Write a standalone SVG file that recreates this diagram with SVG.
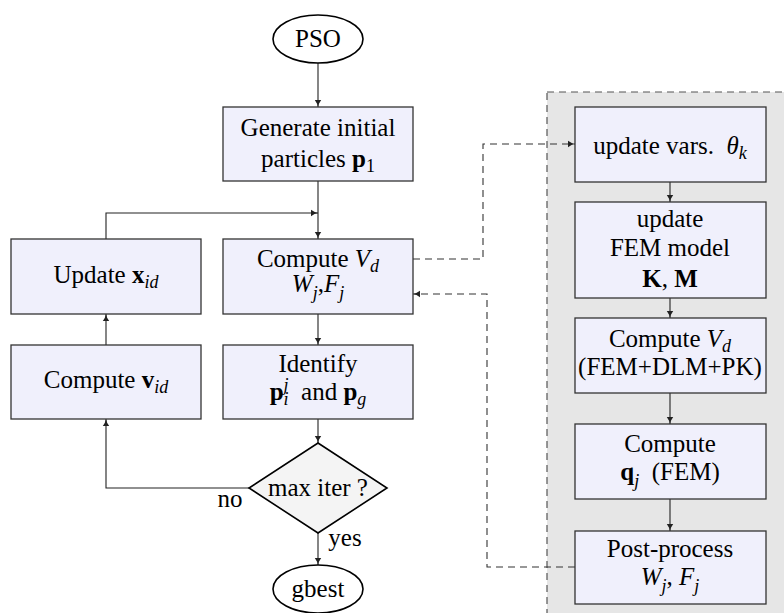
<svg xmlns="http://www.w3.org/2000/svg" width="784" height="613" viewBox="0 0 784 613" font-family="'Liberation Serif', 'Times New Roman', 'DejaVu Serif', serif">
<style>
text{font-family:'Liberation Serif','Times New Roman','DejaVu Serif',serif;font-size:25px;fill:#000;text-anchor:middle}
.box{fill:#f0f0fc;stroke:#333;stroke-width:1.3}
.term{fill:#fff;stroke:#000;stroke-width:1.6}
.dia{fill:#f4f4f4;stroke:#000;stroke-width:1.6}
.ln{fill:none;stroke:#222;stroke-width:1.1;marker-end:url(#ah)}
.dash{fill:none;stroke:#333;stroke-width:1.1;stroke-dasharray:7 5}
.it{font-style:italic}
.b{font-weight:bold}
.s{font-size:18px;font-style:italic}
</style>
<defs>
<marker id="ah" markerUnits="userSpaceOnUse" markerWidth="8" markerHeight="8" refX="7" refY="4" orient="auto">
<path d="M0,0.8 Q3.5,3.4 7,4 Q3.5,4.6 0,7.2 Z" fill="#222"/>
</marker>
</defs>
<g id="panel">
<rect x="547" y="92" width="250" height="540" fill="#e6e6e6" stroke="#555" stroke-width="1.2" stroke-dasharray="7 5"/>
</g>
<g id="connectors">
<line class="ln" x1="318" y1="63" x2="318" y2="107"/>
<line class="ln" x1="318" y1="181" x2="318" y2="239"/>
<polyline class="ln" points="106,239 106,213 318,213"/>
<line class="ln" x1="318" y1="314" x2="318" y2="345"/>
<line class="ln" x1="318" y1="419" x2="318" y2="443"/>
<line class="ln" x1="318" y1="533" x2="318" y2="565"/>
<polyline class="ln" points="249,488 106,488 106,419"/>
<line class="ln" x1="106" y1="345" x2="106" y2="314"/>
<line class="ln" x1="670" y1="182" x2="670" y2="202"/>
<line class="ln" x1="670" y1="298" x2="670" y2="318"/>
<line class="ln" x1="670" y1="393" x2="670" y2="424"/>
<line class="ln" x1="670" y1="499" x2="670" y2="531"/>
<polyline class="dash" marker-end="url(#ah)" points="413,259 483,259 483,144 575,144"/>
<polyline class="dash" marker-end="url(#ah)" points="575,567 487,567 487,294 413,294"/>
<text x="230" y="507">no</text>
<text x="345" y="546">yes</text>
</g>
<g id="pso">
<ellipse class="term" cx="318" cy="39" rx="45" ry="24"/>
<text x="318" y="47">PSO</text>
</g>
<g id="generate">
<rect class="box" x="223" y="107" width="190" height="74"/>
<text x="318" y="136">Generate initial</text>
<text x="318" y="167">particles <tspan class="b">p</tspan><tspan font-size="18" baseline-shift="-5">1</tspan></text>
</g>
<g id="update-x">
<rect class="box" x="11" y="239" width="190" height="75"/>
<text x="106" y="283">Update <tspan class="b">x</tspan><tspan class="s" baseline-shift="-5">id</tspan></text>
</g>
<g id="compute-vd">
<rect class="box" x="223" y="239" width="190" height="75"/>
<text x="318" y="267">Compute <tspan class="it">V</tspan><tspan class="s" baseline-shift="-5">d</tspan></text>
<text x="318" y="292"><tspan class="it">W</tspan><tspan class="s" baseline-shift="-7">j</tspan>,<tspan class="it">F</tspan><tspan class="s" baseline-shift="-7">j</tspan></text>
</g>
<g id="compute-v">
<rect class="box" x="11" y="345" width="190" height="74"/>
<text x="106" y="388">Compute <tspan class="b">v</tspan><tspan class="s" baseline-shift="-5">id</tspan></text>
</g>
<g id="identify">
<rect class="box" x="223" y="345" width="190" height="74"/>
<text x="318" y="372">Identify</text>
<text x="318" y="400" xml:space="preserve"><tspan class="b">p</tspan><tspan class="s" baseline-shift="-5">i</tspan><tspan class="s" dx="-5" baseline-shift="9">j</tspan>  and <tspan class="b">p</tspan><tspan class="s" baseline-shift="-5">g</tspan></text>
</g>
<g id="decision">
<polygon class="dia" points="318,443 387,488 318,533 249,488"/>
<text x="318" y="496">max iter ?</text>
</g>
<g id="gbest">
<ellipse class="term" cx="318" cy="589" rx="45" ry="24"/>
<text x="318" y="597">gbest</text>
</g>
<g id="update-vars">
<rect class="box" x="575" y="107" width="191" height="75"/>
<text x="670" y="154" xml:space="preserve">update vars.  <tspan class="it">θ</tspan><tspan class="s" baseline-shift="-5">k</tspan></text>
</g>
<g id="update-fem">
<rect class="box" x="575" y="202" width="191" height="96"/>
<text x="670" y="227">update</text>
<text x="670" y="256">FEM model</text>
<text x="670" y="287"><tspan class="b">K</tspan>, <tspan class="b">M</tspan></text>
</g>
<g id="compute-vd-fem">
<rect class="box" x="575" y="318" width="191" height="75"/>
<text x="670" y="347">Compute <tspan class="it">V</tspan><tspan class="s" baseline-shift="-5">d</tspan></text>
<text x="670" y="375">(FEM+DLM+PK)</text>
</g>
<g id="compute-q">
<rect class="box" x="575" y="424" width="191" height="75"/>
<text x="670" y="452">Compute</text>
<text x="670" y="480" xml:space="preserve"><tspan class="b">q</tspan><tspan class="s" baseline-shift="-7">j</tspan>  (FEM)</text>
</g>
<g id="post-process">
<rect class="box" x="575" y="531" width="191" height="73"/>
<text x="670" y="557">Post-process</text>
<text x="670" y="585"><tspan class="it">W</tspan><tspan class="s" baseline-shift="-7">j</tspan>, <tspan class="it">F</tspan><tspan class="s" baseline-shift="-7">j</tspan></text>
</g>
</svg>
